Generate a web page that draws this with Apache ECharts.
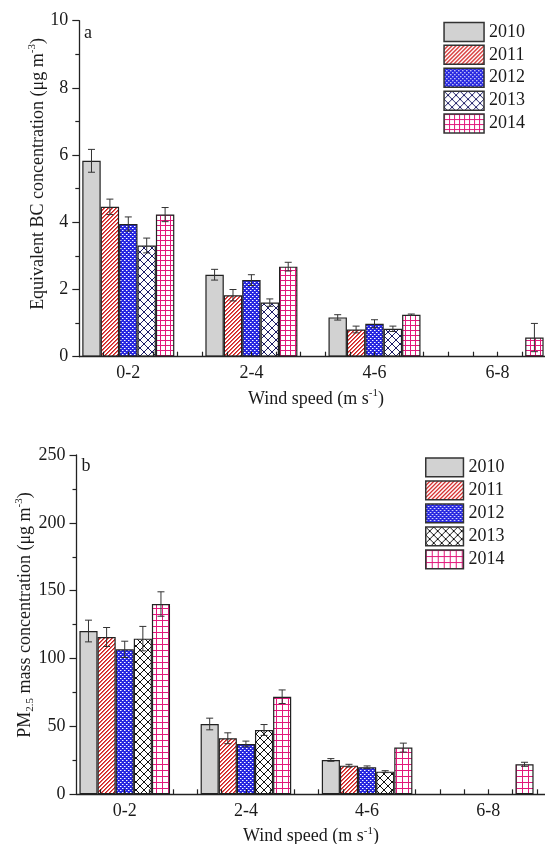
<!DOCTYPE html>
<html><head><meta charset="utf-8">
<script src="https://cdn.jsdelivr.net/npm/echarts@6/dist/echarts.min.js"></script>
<style>
html,body{margin:0;padding:0;background:#fff;width:545px;height:844px;overflow:hidden}
#a{position:absolute;left:0;top:0;width:545px;height:422px}
#b{position:absolute;left:0;top:422px;width:545px;height:422px}
</style>
</head><body><div id="a"></div><div id="b"></div>
<script>
// ---------- data ----------
const categories = ['0-2', '2-4', '4-6', '6-8'];
const years = ['2010', '2011', '2012', '2013', '2014'];
const xTickValues = [0.8,1.0,1.2,1.4,1.6,1.8,2.0,2.2,2.4,2.6,2.8,3.0,3.2,3.4,3.6,3.8,4.0,4.2,4.4];
const bcTickLabels = [0, 2, 4, 6, 8, 10];
const pmTickLabels = [0, 50, 100, 150, 200, 250];

// Equivalent BC (µg m-3)
const bc2010 = [5.83, 2.44, 1.17, null];
const bc2011 = [4.46, 1.83, 0.81, null];
const bc2012 = [3.95, 2.28, 0.98, null];
const bc2013 = [3.31, 1.61, 0.83, null];
const bc2014 = [4.23, 2.68, 1.25, 0.57];
const bcErr2010 = [0.34, 0.16, 0.08, null];
const bcErr2011 = [0.23, 0.17, 0.10, null];
const bcErr2012 = [0.21, 0.16, 0.12, null];
const bcErr2013 = [0.22, 0.11, 0.08, null];
const bcErr2014 = [0.21, 0.13, 0.02, 0.42];

// PM2.5 (µg m-3)
const pm2010 = [120.3, 51.8, 25.3, null];
const pm2011 = [115.9, 41.3, 21.1, null];
const pm2012 = [106.8, 37.1, 19.9, null];
const pm2013 = [114.7, 47.4, 16.7, null];
const pm2014 = [140.2, 71.9, 34.4, 22.1];
const pmErr2010 = [8.0, 4.3, 1.0, null];
const pmErr2011 = [7.0, 4.0, 1.0, null];
const pmErr2012 = [6.0, 2.1, 1.0, null];
const pmErr2013 = [9.0, 4.0, 0.7, null];
const pmErr2014 = [9.0, 5.0, 3.3, 1.5];

// ---------- styling ----------
const FONT = '"Liberation Serif", "Times New Roman", serif';
const INK = '#1a1a1a';
const BAR_FRAC = 0.1495;

function canvasTile(size, draw) {
  const c = document.createElement('canvas');
  c.width = c.height = size;
  const g = c.getContext('2d');
  g.fillStyle = '#fff'; g.fillRect(0, 0, size, size);
  draw(g, size);
  return { image: c, repeat: 'repeat' };
}
function pixelTile(size, fn) {
  return canvasTile(size, (g, s) => {
    for (let y = 0; y < s; y++) for (let x = 0; x < s; x++) {
      const col = fn(x, y, s);
      if (col) { g.fillStyle = col; g.fillRect(x, y, 1, 1); }
    }
  });
}
function patterns(crossColor, gridSize) {
  return [
    '#d2d2d2',
    pixelTile(4, (x, y) => { const d = (x + y) % 4; return d === 3 ? '#d21f1f' : (d === 0 ? '#de5a5a' : null); }),
    pixelTile(4, (x, y) => {
      if ((x === 0 && y === 0) || (x === 2 && y === 2)) return '#ffffff';
      if ((x === 1 && y === 0) || (x === 3 && y === 2)) return '#8c8cf2';
      return '#2727e0';
    }),
    canvasTile(8, (g, s) => {
      g.strokeStyle = crossColor; g.lineWidth = 1;
      for (let k = -1; k <= 1; k++) {
        g.beginPath(); g.moveTo(k * s, 0); g.lineTo(k * s + s, s); g.stroke();
        g.beginPath(); g.moveTo(k * s + s, 0); g.lineTo(k * s, s); g.stroke();
      }
    }),
    pixelTile(gridSize, (x, y) => (x === 0 || y === 0) ? '#e3187c' : null)
  ];
}

function build(el, cfg) {
  const chart = echarts.init(el, null, { renderer: 'canvas' });
  const pats = patterns(cfg.crossColor, cfg.gridSize);
  const series = [];
  const errRows = [];
  cfg.means.forEach((arr, s) => {
    const data = [];
    arr.forEach((v, i) => {
      if (v != null) {
        data.push([i + 1, v]);
        errRows.push([i + 1, v, cfg.errs[s][i], s]);
      }
    });
    series.push({
      type: 'bar', name: years[s], data: data,
      barWidth: (BAR_FRAC * 100) + '%', barGap: '0%',
      itemStyle: { color: pats[s], borderColor: '#222', borderWidth: 1.2 },
      emphasis: { disabled: true }, silent: true, z: 2
    });
  });
  series.push({
    type: 'custom', name: 'err', data: errRows, z: 5, silent: true,
    encode: { x: 0, y: 1 },
    renderItem: function (params, api) {
      const x = api.value(0), m = api.value(1), e = api.value(2), s = api.value(3);
      const band = api.size([1, 0])[0];
      const bw = band * BAR_FRAC;
      const cx = api.coord([x, m])[0] + (s - 2) * bw;
      const yt = api.coord([x, m + e])[1];
      const yb = api.coord([x, m - e])[1];
      const st = { stroke: '#333', lineWidth: 1 };
      return { type: 'group', children: [
        { type: 'line', shape: { x1: cx, y1: yt, x2: cx, y2: yb }, style: st },
        { type: 'line', shape: { x1: cx - 3.5, y1: yt, x2: cx + 3.5, y2: yt }, style: st },
        { type: 'line', shape: { x1: cx - 3.5, y1: yb, x2: cx + 3.5, y2: yb }, style: st }
      ] };
    }
  });
  const ticks = cfg.ticks;
  chart.setOption({
    animation: false,
    backgroundColor: '#fff',
    grid: { left: cfg.left, right: 0, top: cfg.top, bottom: cfg.bottom, outerBoundsMode: 'none', containLabel: false },
    xAxis: {
      type: 'value', min: 0.602, max: cfg.xmax, z: 4,
      axisLine: { show: true, onZero: false, lineStyle: { color: '#222', width: 1.3 } },
      splitLine: { show: false },
      axisTick: { show: true, inside: true, length: 5, customValues: xTickValues, lineStyle: { color: '#222', width: 1.2 } },
      axisLabel: { customValues: [1, 2, 3, 4], formatter: v => categories[Math.round(v) - 1] || '',
        fontFamily: FONT, fontSize: 18, color: INK, margin: 8 }
    },
    yAxis: {
      type: 'value', min: ticks[0], max: ticks[ticks.length - 1], interval: ticks[1] - ticks[0], z: 4,
      axisLine: { show: true, lineStyle: { color: '#222', width: 1.3 } },
      splitLine: { show: false },
      axisTick: { show: true, length: 7, lineStyle: { color: '#222', width: 1.2 } },
      minorTick: { show: true, splitNumber: 2, length: 4, lineStyle: { color: '#222', width: 1.2 } },
      axisLabel: { fontFamily: FONT, fontSize: 18, color: INK, margin: 11 }
    },
    legend: {
      orient: 'vertical', left: cfg.legLeft, top: cfg.legTop, padding: 0,
      itemWidth: cfg.legW, itemHeight: cfg.legH, itemGap: cfg.legGap, icon: 'rect',
      selectedMode: false, data: years,
      itemStyle: { borderColor: '#333', borderWidth: 1.5 },
      textStyle: { fontFamily: FONT, fontSize: 18, color: INK, lineHeight: cfg.legH }
    },
    graphic: cfg.graphic,
    series: series
  });
  return chart;
}

function richText(x, y, rot, text, extra) {
  return {
    type: 'text', x: x, y: y, rotation: rot, silent: true,
    style: Object.assign({
      text: text, fill: INK, fontFamily: FONT, fontSize: 18,
      align: 'center', verticalAlign: 'middle', textAlign: 'center', textVerticalAlign: 'middle',
      rich: {
        n: { fontFamily: FONT, fontSize: 18, lineHeight: 22, fill: INK, color: INK },
        sup: { fontFamily: FONT, fontSize: 11, lineHeight: 10, verticalAlign: 'top', fill: INK, color: INK },
        sub: { fontFamily: FONT, fontSize: 11, lineHeight: 10, verticalAlign: 'bottom', fill: INK, color: INK }
      }
    }, extra || {})
  };
}

build(document.getElementById('a'), {
  means: [bc2010, bc2011, bc2012, bc2013, bc2014],
  errs: [bcErr2010, bcErr2011, bcErr2012, bcErr2013, bcErr2014],
  ticks: bcTickLabels, crossColor: '#1c1c66', gridSize: 5,
  left: 79.3, top: 20.7, bottom: 65.3, xmax: 4.385,
  legLeft: 443.3, legTop: 21.7, legW: 40, legH: 19, legGap: 2.4,
  graphic: [
    richText(84, 33.3, 0, 'a', { align: 'left', textAlign: 'left' }),
    richText(38, 174, Math.PI / 2, '{n|Equivalent BC concentration (μg m}{sup|-3}{n|)}'),
    richText(316, 399, 0, '{n|Wind speed (m s}{sup|-1}{n|)}')
  ]
});

build(document.getElementById('b'), {
  means: [pm2010, pm2011, pm2012, pm2013, pm2014],
  errs: [pmErr2010, pmErr2011, pmErr2012, pmErr2013, pmErr2014],
  ticks: pmTickLabels, crossColor: '#111111', gridSize: 6,
  left: 76.5, top: 33, bottom: 49.7, xmax: 4.468,
  legLeft: 425, legTop: 35.3, legW: 37.7, legH: 18.7, legGap: 2.8,
  graphic: [
    richText(81.5, 44.7, 0, 'b', { align: 'left', textAlign: 'left' }),
    richText(25, 193, Math.PI / 2, '{n|PM}{sub|2.5}{n| mass concentration (μg m}{sup|-3}{n|)}'),
    richText(311, 414.7, 0, '{n|Wind speed (m s}{sup|-1}{n|)}')
  ]
});
</script>
</body></html>
